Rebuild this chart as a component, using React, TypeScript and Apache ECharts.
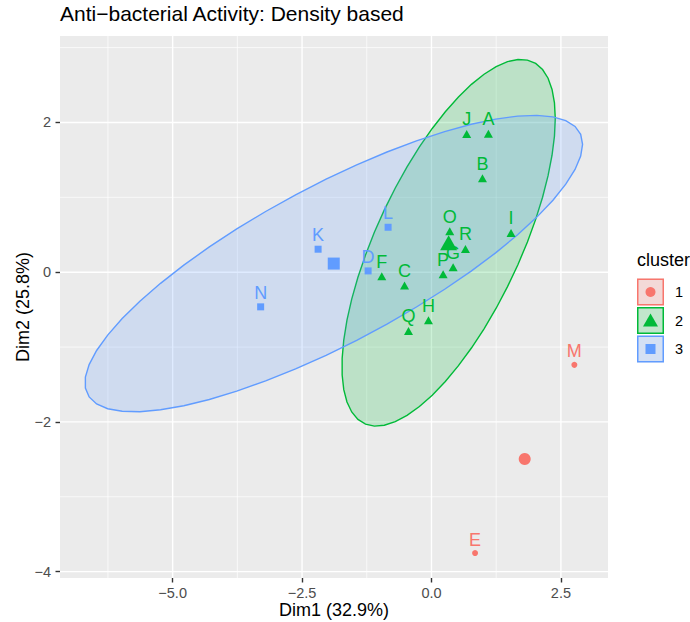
import React, { useEffect, useRef } from "react";
import * as echarts from "echarts";

// ---- data ----
const clusterIds = ["1", "2", "3"];
const clusterColors = ["#F8766D", "#00BA38", "#619CFF"];
const clusterSymbols = ["circle", "triangle", "rect"];

const c1Names = ["M", "E"];
const c1X = [2.76, 0.842];
const c1Y = [-1.238, -3.752];

const c2Names = ["A", "B", "C", "F", "G", "H", "I", "J", "O", "P", "Q", "R"];
const c2X = [1.1, 0.985, -0.52, -0.96, 0.418, -0.058, 1.537, 0.68, 0.353, 0.225, -0.444, 0.656];
const c2Y = [1.85, 1.255, -0.179, -0.053, 0.067, -0.641, 0.525, 1.846, 0.547, -0.027, -0.784, 0.311];

const c3Names = ["D", "K", "L", "N"];
const c3X = [-1.224, -2.19, -0.838, -3.3];
const c3Y = [0.017, 0.307, 0.6, -0.463];

const xTicks = [-5, -2.5, 0, 2.5];
const xMinor = [-6.25, -3.75, -1.25, 1.25];
const yTicks = [-4, -2, 0, 2];
const yMinor = [-3, -1, 1, 3];
const xLimits = [-7.176, 3.41];
const yLimits = [-4.085, 3.155];

const titleText = "Anti\u2212bacterial Activity: Density based";
const xTitle = "Dim1 (32.9%)";
const yTitle = "Dim2 (25.8%)";
const legendTitle = "cluster";

const FONT = "'Liberation Sans', Arial, Helvetica, sans-serif";

type Cluster = { names: string[]; xs: number[]; ys: number[] };
const clusters: Cluster[] = [
  { names: c1Names, xs: c1X, ys: c1Y },
  { names: c2Names, xs: c2X, ys: c2Y },
  { names: c3Names, xs: c3X, ys: c3Y },
];

const mean = (a: number[]) => a.reduce((s, v) => s + v, 0) / a.length;

// normal-theory 95% confidence ellipse, as ggplot2's stat_ellipse(type = "norm")
function normEllipse(xs: number[], ys: number[], level = 0.95, segments = 51): number[][] {
  const n = xs.length;
  const mx = mean(xs);
  const my = mean(ys);
  let sxx = 0, syy = 0, sxy = 0;
  for (let i = 0; i < n; i++) {
    sxx += (xs[i] - mx) ** 2;
    syy += (ys[i] - my) ** 2;
    sxy += (xs[i] - mx) * (ys[i] - my);
  }
  sxx /= n - 1; syy /= n - 1; sxy /= n - 1;
  const a = Math.sqrt(sxx);
  const b = sxy / a;
  const c = Math.sqrt(Math.max(syy - b * b, 0));
  const dfd = n - 1;
  const f = (dfd / 2) * (Math.pow(1 - level, -2 / dfd) - 1); // qf(level, 2, dfd)
  const r = Math.sqrt(2 * f);
  const pts: number[][] = [];
  for (let i = 0; i <= segments; i++) {
    const t = (i * 2 * Math.PI) / segments;
    const u = Math.cos(t), v = Math.sin(t);
    pts.push([mx + r * u * a, my + r * (u * b + v * c)]);
  }
  return pts;
}

function hexA(hex: string, a: number) {
  const n = parseInt(hex.slice(1), 16);
  return `rgba(${(n >> 16) & 255},${(n >> 8) & 255},${n & 255},${a})`;
}

const fmtNum = (v: number, d: number) => (v < 0 ? "\u2212" : "") + Math.abs(v).toFixed(d);

export default function App() {
  const ref = useRef<HTMLDivElement>(null);

  useEffect(() => {
    if (!ref.current) return;
    const chart = echarts.init(ref.current, undefined, { renderer: "svg" });

    const gridLines: { axis: string; v: number; major: boolean }[] = [
      ...xMinor.map((v) => ({ axis: "x", v, major: false })),
      ...yMinor.map((v) => ({ axis: "y", v, major: false })),
      ...xTicks.map((v) => ({ axis: "x", v, major: true })),
      ...yTicks.map((v) => ({ axis: "y", v, major: true })),
    ];

    const ellipseIdx = clusters.map((c, i) => i).filter((i) => clusters[i].names.length >= 3);
    const ellipses = ellipseIdx.map((i) => normEllipse(clusters[i].xs, clusters[i].ys));

    const series: any[] = [
      {
        type: "custom",
        name: "grid",
        silent: true,
        z: 1,
        clip: true,
        data: gridLines.map((g) => [g.axis === "x" ? g.v : xLimits[0], g.axis === "y" ? g.v : yLimits[0]]),
        renderItem: (params: any, api: any) => {
          const g = gridLines[params.dataIndex];
          const p1 = g.axis === "x" ? api.coord([g.v, yLimits[0]]) : api.coord([xLimits[0], g.v]);
          const p2 = g.axis === "x" ? api.coord([g.v, yLimits[1]]) : api.coord([xLimits[1], g.v]);
          return {
            type: "line",
            shape: { x1: p1[0], y1: p1[1], x2: p2[0], y2: p2[1] },
            style: { stroke: "#FFFFFF", lineWidth: g.major ? 1.4 : 0.7 },
          };
        },
      },
      {
        type: "custom",
        name: "ellipses",
        silent: true,
        z: 2,
        data: ellipseIdx.map((i) => [mean(clusters[i].xs), mean(clusters[i].ys)]),
        renderItem: (params: any, api: any) => {
          const ci = ellipseIdx[params.dataIndex];
          const pts = ellipses[params.dataIndex].map((p) => api.coord(p));
          return {
            type: "polygon",
            shape: { points: pts },
            style: { fill: hexA(clusterColors[ci], 0.2), stroke: clusterColors[ci], lineWidth: 1.4 },
          };
        },
      },
    ];

    const ptSize: any[] = [6, [9, 8], 7];
    const cenSize: any[] = [12, [17, 15], 12];

    clusters.forEach((c, i) => {
      series.push({
        type: "scatter",
        name: clusterIds[i],
        silent: true,
        z: 3,
        symbol: clusterSymbols[i],
        symbolSize: ptSize[i],
        itemStyle: { color: clusterColors[i], opacity: 1 },
        label: {
          show: true,
          position: "top",
          distance: 1.5,
          formatter: "{b}",
          color: clusterColors[i],
          fontSize: 18,
          fontFamily: FONT,
        },
        emphasis: { disabled: true },
        data: c.names.map((n, k) => ({ name: n, value: [c.xs[k], c.ys[k]] })),
      });
      series.push({
        type: "scatter",
        name: clusterIds[i] + "-centre",
        silent: true,
        z: 3,
        symbol: clusterSymbols[i],
        symbolSize: cenSize[i],
        itemStyle: { color: clusterColors[i], opacity: 1 },
        emphasis: { disabled: true },
        data: [[mean(c.xs), mean(c.ys)]],
      });
    });

    // axis titles and legend built as graphics
    const graphicEls: any[] = [
      {
        type: "text",
        x: 334,
        y: 609.5,
        style: { text: xTitle, fontSize: 18, fontFamily: FONT, fill: "#000", align: "center", verticalAlign: "middle" },
      },
      {
        type: "text",
        x: 22.5,
        y: 307,
        rotation: Math.PI / 2,
        style: { text: yTitle, fontSize: 18, fontFamily: FONT, fill: "#000", align: "center", verticalAlign: "middle" },
      },
      {
        type: "text",
        x: 637,
        y: 260,
        style: { text: legendTitle, fontSize: 18, fontFamily: FONT, fill: "#000", verticalAlign: "middle" },
      },
    ];
    clusterIds.forEach((id, i) => {
      const top = 278.5 + i * 28.5;
      const cx = 650.5, cy = top + 13.5;
      graphicEls.push({
        type: "rect",
        shape: { x: 637, y: top, width: 27, height: 27 },
        style: { fill: "#F2F2F2" },
      });
      graphicEls.push({
        type: "rect",
        shape: { x: 637.75, y: top + 0.75, width: 25.5, height: 25.5 },
        style: { fill: hexA(clusterColors[i], 0.2), stroke: clusterColors[i], lineWidth: 1.5 },
      });
      if (clusterSymbols[i] === "circle") {
        graphicEls.push({ type: "circle", shape: { cx, cy, r: 5 }, style: { fill: clusterColors[i] } });
      } else if (clusterSymbols[i] === "triangle") {
        graphicEls.push({
          type: "polygon",
          shape: { points: [[cx, cy - 7], [cx + 7.5, cy + 6], [cx - 7.5, cy + 6]] },
          style: { fill: clusterColors[i] },
        });
      } else {
        graphicEls.push({
          type: "rect",
          shape: { x: cx - 5, y: cy - 5, width: 10, height: 10 },
          style: { fill: clusterColors[i] },
        });
      }
      graphicEls.push({
        type: "text",
        x: 675,
        y: cy,
        style: { text: id, fontSize: 14.5, fontFamily: FONT, fill: "#000", verticalAlign: "middle" },
      });
    });

    chart.setOption({
      animation: false,
      backgroundColor: "#FFFFFF",
      title: {
        text: titleText,
        left: 60,
        top: 3,
        padding: 0,
        textStyle: { fontSize: 21, fontWeight: "normal", color: "#000", fontFamily: FONT },
      },
      grid: {
        left: 60,
        top: 36,
        right: 82,
        bottom: 44,
        show: true,
        backgroundColor: "#EBEBEB",
        borderWidth: 0,
        containLabel: false,
        outerBoundsMode: "none",
      },
      xAxis: {
        type: "value",
        min: xLimits[0],
        max: xLimits[1],
        axisLine: { show: false, onZero: false },
        splitLine: { show: false },
        axisTick: { show: true, customValues: xTicks, length: 4.5, lineStyle: { color: "#333333", width: 1.4 } },
        axisLabel: {
          customValues: xTicks,
          margin: 7,
          fontSize: 14.5,
          color: "#4D4D4D",
          fontFamily: FONT,
          formatter: (v: number) => fmtNum(v, 1),
        },
      },
      yAxis: {
        type: "value",
        min: yLimits[0],
        max: yLimits[1],
        axisLine: { show: false, onZero: false },
        splitLine: { show: false },
        axisTick: { show: true, customValues: yTicks, length: 4.5, lineStyle: { color: "#333333", width: 1.4 } },
        axisLabel: {
          customValues: yTicks,
          margin: 9,
          fontSize: 14.5,
          color: "#4D4D4D",
          fontFamily: FONT,
          formatter: (v: number) => fmtNum(v, 0),
        },
      },
      tooltip: { show: false },
      series,
      graphic: graphicEls,
    });

    return () => chart.dispose();
  }, []);

  return <div ref={ref} style={{ position: "absolute", left: 0, top: 0, width: 690, height: 622 }} />;
}
